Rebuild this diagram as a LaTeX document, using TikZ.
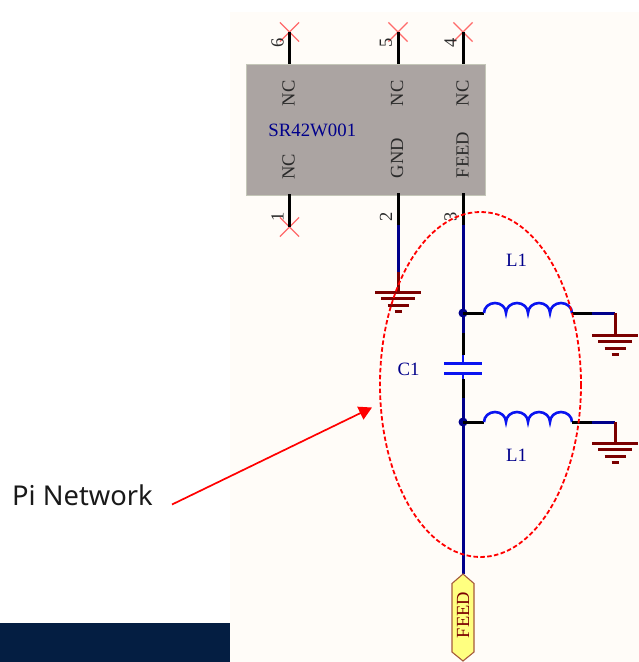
\documentclass[tikz,border=0pt]{standalone}
\usepackage{fontspec}
\setmainfont{Liberation Serif}
\newfontfamily\labelfont{Noto Sans}
\usetikzlibrary{arrows.meta,shapes.misc}
\definecolor{sheet}{HTML}{FFFCF8}
\definecolor{chipfill}{HTML}{ABA4A2}
\definecolor{chipedge}{HTML}{C4C6B8}
\definecolor{wirenavy}{HTML}{00008B}
\definecolor{coilblue}{HTML}{0A14F0}
\definecolor{gndred}{HTML}{7B0000}
\definecolor{bar}{HTML}{041E42}
\definecolor{portfill}{HTML}{FFFF80}
\definecolor{portedge}{HTML}{A55A3C}
\definecolor{pincol}{HTML}{2A2A2A}
\definecolor{nccross}{HTML}{FF6A6A}
\tikzset{
  x=1pt,y=-1pt,
  blackwire/.style={draw=black,line width=3pt},
  navywire/.style={draw=wirenavy,line width=3pt},
  coilwire/.style={draw=coilblue,line width=2.6pt},
  gndwire/.style={draw=gndred,line width=3pt},
  gndbar/.style={draw=gndred,line width=3pt},
  dotnode/.style={circle,fill=wirenavy,inner sep=0pt,minimum size=9pt},
  chipbox/.style={rectangle,fill=chipfill,draw=chipedge,line width=.5pt,minimum width=238.5pt,minimum height=131pt,inner sep=0pt},
  pintext/.style={rotate=90,font=\fontsize{18.5}{18.5}\selectfont,text=pincol,inner sep=0pt},
  chiptext/.style={font=\fontsize{18.8}{18.8}\selectfont,text=wirenavy,inner sep=0pt},
  nomark/.style={cross out,draw=nccross,line width=1.2pt,minimum size=18pt,inner sep=0pt},
  hiplus/.style={draw=red,line width=1.8pt,dash pattern=on 4.5pt off 2.4pt},
  callout/.style={draw=red,line width=1.7pt,-{Triangle[length=13pt,width=14pt]}},
  portbox/.style={draw=portedge,fill=portfill,line width=1.1pt,line join=miter},
}
\newcommand{\gndsymbol}[1]{%
  \draw[gndbar] ([xshift=-23pt]#1) -- ([xshift=23pt]#1);
  \draw[gndbar] ([xshift=-17pt,yshift=-6.5pt]#1) -- ([xshift=17pt,yshift=-6.5pt]#1);
  \draw[gndbar] ([xshift=-10.5pt,yshift=-13pt]#1) -- ([xshift=10.5pt,yshift=-13pt]#1);
  \draw[gndbar] ([xshift=-3.5pt,yshift=-19.5pt]#1) -- ([xshift=3.5pt,yshift=-19.5pt]#1);
}
\begin{document}
\begin{tikzpicture}
\useasboundingbox (0,0) rectangle (639,662);
\fill[white] (0,0) rectangle (639,662);
\fill[sheet] (230,12) rectangle (639,662);
\fill[bar] (0,623) rectangle (230,662);

% chip
\node[chipbox] (chip) at (365.7,129.5) {};
\node[chiptext] (partname) at (312.3,130) {SR42W001};
\node[pintext] (nc6) at (288.5,93.5) {NC};
\node[pintext] (nc5) at (397,93.5) {NC};
\node[pintext] (nc4) at (462.5,93.5) {NC};
\node[pintext] (nc1) at (288.5,167) {NC};
\node[pintext] (gnd) at (397,158) {GND};
\node[pintext] (feed) at (462.5,155) {FEED};

% pin ends
\node[nomark] (x6) at (289.5,32) {};
\node[nomark] (x5) at (398,32) {};
\node[nomark] (x4) at (463,32) {};
\node[nomark] (x1) at (289.5,227) {};
\coordinate (p6) at (289.5,64);
\coordinate (p5) at (398,64);
\coordinate (p4) at (463,64);
\coordinate (p1) at (289.5,194);
\coordinate (p2) at (398,193);
\coordinate (p3) at (463,193);
\draw[blackwire] (x6.center) -- (p6);
\draw[blackwire] (x5.center) -- (p5);
\draw[blackwire] (x4.center) -- (p4);
\draw[blackwire] (p1) -- (x1.center);
\node[pintext] (n6) at (277.5,43) {6};
\node[pintext] (n5) at (386,43) {5};
\node[pintext] (n4) at (450.5,43) {4};
\node[pintext] (n1) at (277.5,217) {1};
\node[pintext] (n2) at (386,217) {2};
\node[pintext] (n3) at (450.5,217) {3};

% GND stub on pin 2
\coordinate (p2a) at (398,225);
\coordinate (p2b) at (398,272);
\coordinate (g2) at (398,292);
\draw[blackwire] (p2) -- (p2a);
\draw[navywire] (p2a) -- (p2b);
\draw[gndwire] (p2b) -- (g2);
\gndsymbol{g2}

% main feed line
\node[dotnode] (j1) at (463,313) {};
\node[dotnode] (j2) at (463,422) {};
\coordinate (p3a) at (463,225);
\coordinate (c1a) at (463,333);
\coordinate (c1b) at (463,355);
\coordinate (plateA) at (463,363);
\coordinate (plateB) at (463,373);
\coordinate (c2a) at (463,379);
\coordinate (c2b) at (463,398);
\coordinate (portTop) at (463,574);
\draw[blackwire] (p3) -- (p3a);
\draw[navywire] (p3a) -- (j1.center) -- (c1a);
\draw[blackwire] (c1a) -- (c1b);
\draw[coilwire] (c1b) -- (plateA);
\draw[coilwire] (plateB) -- (c2a);
\draw[blackwire] (c2a) -- (c2b);
\draw[navywire] (c2b) -- (j2.center) -- (portTop);

% capacitor
\draw[coilwire,line width=3pt] ([xshift=-19pt]plateA) -- ([xshift=19pt]plateA);
\draw[coilwire,line width=3pt] ([xshift=-19pt]plateB) -- ([xshift=19pt]plateB);
\node[chiptext] (c1) at (408.5,369) {C1};

% upper inductor
\coordinate (l1a) at (484,313);
\coordinate (l1b) at (572,313);
\coordinate (l1c) at (592,313);
\coordinate (l1d) at (615,313);
\coordinate (g1) at (615,335);
\draw[blackwire] (j1.center) -- (l1a);
\draw[coilwire] (l1a) arc[start angle=180,end angle=360,x radius=11,y radius=10]
  arc[start angle=180,end angle=360,x radius=11,y radius=10]
  arc[start angle=180,end angle=360,x radius=11,y radius=10]
  arc[start angle=180,end angle=360,x radius=11,y radius=10];
\draw[blackwire] (l1b) -- (l1c);
\draw[navywire] (l1c) -- (l1d);
\draw[gndwire] (l1d) -- (g1);
\gndsymbol{g1}
\node[chiptext] (l1top) at (516.5,260) {L1};

% lower inductor
\coordinate (l2a) at (484,422);
\coordinate (l2b) at (572,422);
\coordinate (l2c) at (592,422);
\coordinate (l2d) at (615,422);
\coordinate (g3) at (615,443);
\draw[blackwire] (j2.center) -- (l2a);
\draw[coilwire] (l2a) arc[start angle=180,end angle=360,x radius=11,y radius=10]
  arc[start angle=180,end angle=360,x radius=11,y radius=10]
  arc[start angle=180,end angle=360,x radius=11,y radius=10]
  arc[start angle=180,end angle=360,x radius=11,y radius=10];
\draw[blackwire] (l2b) -- (l2c);
\draw[navywire] (l2c) -- (l2d);
\draw[gndwire] (l2d) -- (g3);
\gndsymbol{g3}
\node[chiptext] (l1bot) at (516.5,455) {L1};

% port
\draw[portbox] (portTop) -- (474,583.5) -- (474,652) -- (463,661) -- (452,652) -- (452,583.5) -- cycle;
\node[pintext,text=gndred] (porttext) at (463,615) {FEED};

% highlight
\draw[hiplus] (480.5,384.5) circle[x radius=100.5,y radius=172.5];
\node[anchor=base west,inner sep=0pt,font=\labelfont\fontsize{27.3}{27.3}\selectfont,text=black!90] (pi) at (12,505.5) {Pi Network};
\coordinate (target) at (372,407.5);
\coordinate (tail) at (172,504.5);
\draw[callout] (tail) -- (target);
\end{tikzpicture}
\end{document}
